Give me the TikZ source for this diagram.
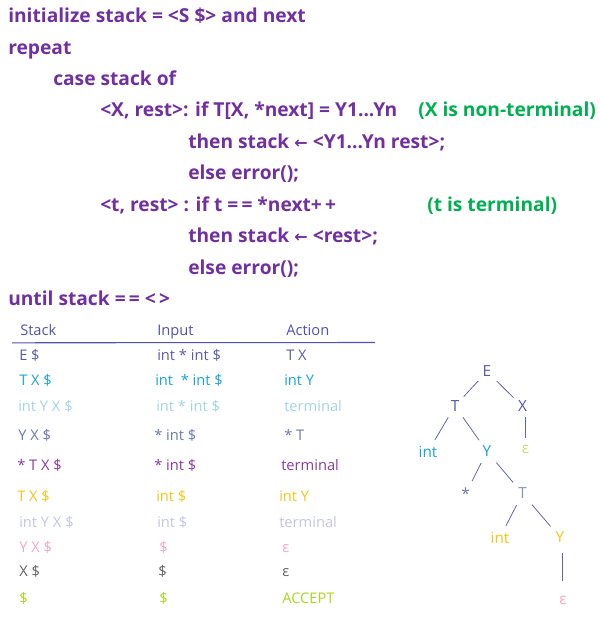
\documentclass[tikz,border=0pt]{standalone}
\usepackage{fontspec}
\setmainfont{Open Sans}
\newfontfamily\arrowfont{DejaVu Sans}
\definecolor{codepurple}{HTML}{7030A0}
\definecolor{codegreen}{HTML}{00B050}
\definecolor{hdr}{HTML}{5252AE}
\definecolor{rA}{HTML}{5A5AAA}
\definecolor{rB}{HTML}{1AA3D6}
\definecolor{rC}{HTML}{A3D4E6}
\definecolor{rD}{HTML}{6A7AAA}
\definecolor{rE}{HTML}{8A3A9E}
\definecolor{rF}{HTML}{F5C518}
\definecolor{rG}{HTML}{C4C4E6}
\definecolor{rH}{HTML}{F2A6C6}
\definecolor{rI}{HTML}{606060}
\definecolor{rJ}{HTML}{A8D820}
\definecolor{epsX}{HTML}{C8DC70}
\definecolor{treeedge}{HTML}{6464A8}
\begin{document}
\begin{tikzpicture}[x=0.75pt,y=-0.75pt,
  code/.style={anchor=base west, inner sep=0pt, text=codepurple,
    font=\fontsize{14.4}{16}\selectfont\bfseries},
  note/.style={code, text=codegreen},
  cell/.style={anchor=base west, inner sep=0pt,
    font=\fontsize{11}{13}\selectfont},
  tnode/.style={inner sep=2.5pt, font=\fontsize{11.5}{13}\selectfont},
  edge/.style={draw=treeedge, line width=0.6pt}]
\useasboundingbox (0,0) rectangle (599,620);
% ---- pseudo code ----
\node[code] (c1) at (8,23) {initialize stack = <S \$> and next};
\node[code] (c2) at (8,54.5) {repeat};
\node[code] (c3) at (53,86) {case stack of};
\node[code] (c4) at (100,117) {<X, rest>: if T[X, *next] = Y1...Yn};
\node[note] (n4) at (418,117) {(X is non-terminal)};
\node[code] (c5) at (188,148.5) {then stack {\arrowfont\fontsize{12}{13}\selectfont ←} <Y1...Yn rest>;};
\node[code] (c6) at (188,180) {else error();};
\node[code] (c7) at (100,211) {<t, rest> : if t =\,= *next+\,+};
\node[note] (n7) at (427,211) {(t is terminal)};
\node[code] (c8) at (188,242.5) {then stack {\arrowfont\fontsize{12}{13}\selectfont ←} <rest>;};
\node[code] (c9) at (188,274) {else error();};
\node[code] (c10) at (8,305) {until stack =\,= <\,>};
% ---- table ----
\node[cell, text=hdr] (hs) at (20,335) {Stack};
\node[cell, text=hdr] (hi) at (157,335) {Input};
\node[cell, text=hdr] (ha) at (286,335) {Action};
\coordinate (l0) at (12,342.8);
\coordinate (l1) at (375,342.5);
\draw[hdr, line width=0.8pt] (l0) -- (l1);
\node[cell, text=rA] (s1) at (19,360) {E \$};
\node[cell, text=rA] (i1) at (157,360) {int * int \$};
\node[cell, text=rA] (a1) at (286,360) {T X};
\node[cell, text=rB] (s2) at (19,385) {T X \$};
\node[cell, text=rB] (i2) at (155,385) {int~~* int \$};
\node[cell, text=rB] (a2) at (284,385) {int Y};
\node[cell, text=rC] (s3) at (18,411.5) {int Y X \$};
\node[cell, text=rC] (i3) at (156,411.5) {int * int \$};
\node[cell, text=rC] (a3) at (284,411.5) {terminal};
\node[cell, text=rD] (s4) at (18,440) {Y X \$};
\node[cell, text=rD] (i4) at (154,440) {* int \$};
\node[cell, text=rD] (a4) at (284,440) {* T};
\node[cell, text=rE] (s5) at (17,470.5) {* T X \$};
\node[cell, text=rE] (i5) at (154,470.5) {* int \$};
\node[cell, text=rE] (a5) at (281,470.5) {terminal};
\node[cell, text=rF] (s6) at (17,501.5) {T X \$};
\node[cell, text=rF] (i6) at (156,501.5) {int \$};
\node[cell, text=rF] (a6) at (279,501.5) {int Y};
\node[cell, text=rG] (s7) at (19,527.5) {int Y X \$};
\node[cell, text=rG] (i7) at (157,527.5) {int \$};
\node[cell, text=rG] (a7) at (279,527.5) {terminal};
\node[cell, text=rH] (s8) at (19,552.5) {Y X \$};
\node[cell, text=rH] (i8) at (159,552.5) {\$};
\node[cell, text=rH] (a8) at (282,552.5) {ε};
\node[cell, text=rI] (s9) at (19,576.5) {X \$};
\node[cell, text=rI] (i9) at (158,576.5) {\$};
\node[cell, text=rI] (a9) at (282,576.5) {ε};
\node[cell, text=rJ] (s10) at (19,603) {\$};
\node[cell, text=rJ] (i10) at (159,603) {\$};
\node[cell, text=rJ] (a10) at (282,603) {ACCEPT};
% ---- parse tree ----
\node[tnode, text=rA] (E) at (487,371.5) {E};
\node[tnode, text=hdr] (T1) at (455,406) {T};
\node[tnode, text=hdr] (X) at (522.5,406.5) {X};
\node[tnode, text=rB] (int1) at (428,451.5) {int};
\node[tnode, text=rB] (Y1) at (487,451.5) {Y};
\node[tnode, text=epsX] (eps1) at (525.5,449) {ε};
\node[tnode, text=rD] (star) at (465.5,494) {*};
\node[tnode, text=rD!80] (T2) at (522.5,493.5) {T};
\node[tnode, text=rF] (int2) at (500,537.5) {int};
\node[tnode, text=rF] (Y2) at (560,537.5) {Y};
\node[tnode, text=rH] (eps2) at (563,600) {ε};
\draw[edge, shorten <=1pt, shorten >=1pt] (E) -- (T1);
\draw[edge, shorten <=2pt, shorten >=1pt] (E) -- (X);
\draw[edge, shorten <=1pt, shorten >=2pt] (X.south) ++(3,0) coordinate (xs) -- (xs |- eps1.north);
\draw[edge, shorten <=2pt, shorten >=2pt] (T1) -- (int1);
\draw[edge, shorten <=2pt, shorten >=2pt] (T1) -- (Y1);
\draw[edge, shorten <=2pt, shorten >=3pt] (Y1) -- (star);
\draw[edge, shorten <=2pt, shorten >=2pt] (Y1) -- (T2);
\draw[edge, shorten <=2pt, shorten >=2pt] (T2) -- (int2);
\draw[edge, shorten <=2pt, shorten >=2pt] (T2) -- (Y2);
\draw[edge, shorten <=5pt, shorten >=8pt] (Y2.south) ++(2,0) coordinate (ys) -- (ys |- eps2.north);
\end{tikzpicture}
\end{document}
